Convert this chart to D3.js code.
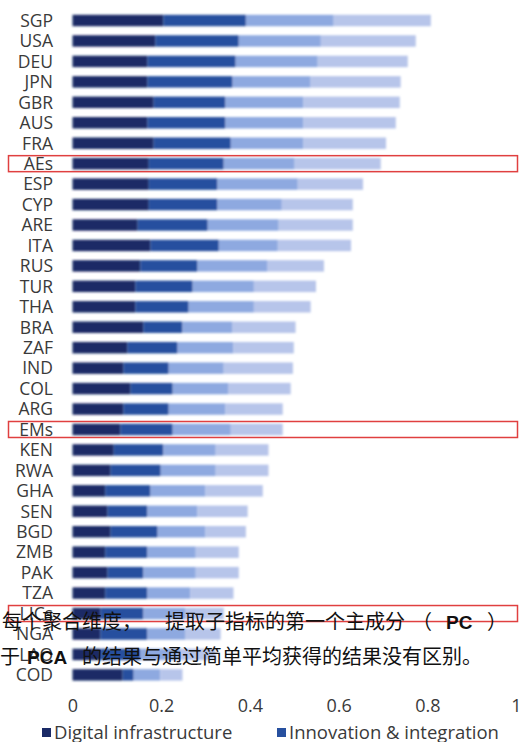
<!DOCTYPE html>
<html>
<head>
<meta charset="utf-8">
<script src="https://cdn.jsdelivr.net/npm/d3@7"></script>
<style>
  html, body { margin: 0; padding: 0; background: #fff; overflow: hidden; }
  svg { display: block; }
</style>
</head>
<body>
<script>
const countries = ["SGP","USA","DEU","JPN","GBR","AUS","FRA","AEs","ESP","CYP","ARE","ITA","RUS","TUR","THA","BRA","ZAF","IND","COL","ARG","EMs","KEN","RWA","GHA","SEN","BGD","ZMB","PAK","TZA","LICs","NGA","LAO","COD"];
const digitalInfrastructure = [0.205,0.187,0.169,0.169,0.183,0.169,0.183,0.172,0.172,0.172,0.147,0.176,0.153,0.142,0.142,0.160,0.124,0.115,0.131,0.115,0.108,0.093,0.086,0.074,0.079,0.086,0.074,0.079,0.074,0.063,0.063,0.063,0.113];
const innovationIntegration = [0.186,0.188,0.199,0.192,0.162,0.176,0.174,0.169,0.155,0.155,0.158,0.154,0.129,0.129,0.120,0.088,0.113,0.102,0.095,0.102,0.118,0.112,0.113,0.102,0.090,0.106,0.095,0.081,0.095,0.097,0.106,0.090,0.025];
const thirdDimension = [0.198,0.185,0.185,0.176,0.176,0.176,0.164,0.160,0.181,0.145,0.160,0.133,0.158,0.138,0.147,0.113,0.126,0.124,0.126,0.128,0.131,0.118,0.124,0.124,0.113,0.108,0.109,0.118,0.097,0.095,0.086,0.091,0.060];
const fourthDimension = [0.219,0.214,0.203,0.203,0.217,0.208,0.186,0.194,0.147,0.160,0.167,0.165,0.127,0.140,0.128,0.142,0.136,0.156,0.140,0.129,0.117,0.119,0.119,0.129,0.113,0.091,0.097,0.097,0.097,0.086,0.079,0.079,0.050];
const seriesNames = ["Digital infrastructure","Innovation & integration","Dimension 3","Dimension 4"];
const legendNames = ["Digital infrastructure","Innovation & integration"];
const tickValues = [0,0.2,0.4,0.6,0.8,1];
const tickLabels = ["0","0.2","0.4","0.6","0.8","1"];
const highlighted = ["AEs","EMs","LICs"];
const overlayLine1 = [["每个聚合维度，", 2, "cjk"], ["提取子指标的第一个主成分", 165, "cjk"], ["（", 412, "cjk"], ["PC", 446, "lat"], ["）", 487, "cjk"]];
const overlayLine2 = [["于", 0, "cjk"], ["PCA", 27, "lat"], ["的结果与通过简单平均获得的结果没有区别。", 82, "cjk"]];

const W = 519, H = 742;
const colors = ["#1a2a66", "#27509f", "#8ea9e0", "#b7c5ea"];

const rows = countries.map((c, i) => ({
  country: c,
  [seriesNames[0]]: digitalInfrastructure[i],
  [seriesNames[1]]: innovationIntegration[i],
  [seriesNames[2]]: thirdDimension[i],
  [seriesNames[3]]: fourthDimension[i]
}));
const stacked = d3.stack().keys(seriesNames)(rows);

const x = d3.scaleLinear().domain([0, 1]).range([72.5, 516]);
const y = d3.scaleBand().domain(countries).range([10.3, 685.1]).paddingInner(0.44).paddingOuter(0.22);

const svg = d3.select("body").append("svg").attr("width", W).attr("height", H);
const defs = svg.append("defs");
defs.append("filter").attr("id", "soft").attr("x", "-5%").attr("y", "-20%").attr("width", "110%").attr("height", "140%")
  .append("feGaussianBlur").attr("stdDeviation", 0.9);

const bars = svg.append("g").attr("filter", "url(#soft)");
bars.selectAll("g").data(stacked).join("g")
  .attr("fill", (d, i) => colors[i])
  .selectAll("rect").data(d => d).join("rect")
  .attr("x", d => x(d[0]))
  .attr("width", d => x(d[1]) - x(d[0]))
  .attr("y", d => y(d.data.country))
  .attr("height", y.bandwidth());

const labelFont = "'Open Sans', sans-serif";
// category labels
const yAxis = d3.axisLeft(y).tickSize(0).tickPadding(0);
const yg = svg.append("g").attr("transform", "translate(53,0)").call(yAxis);
yg.select(".domain").remove();
yg.selectAll("text").attr("font-family", labelFont).attr("font-size", 17.5).attr("fill", "#3a3a3a").attr("dy", "0.36em");

// x axis labels
const xAxis = d3.axisBottom(x).tickValues(tickValues).tickFormat((d, i) => tickLabels[i]).tickSize(0).tickPadding(0);
const xg = svg.append("g").attr("transform", "translate(0,700)").call(xAxis);
xg.select(".domain").remove();
xg.selectAll("text").attr("font-family", labelFont).attr("font-size", 18).attr("fill", "#3a3a3a").attr("dy", "0.68em");

// legend
const legendX = [42, 277];
const lg = svg.append("g");
legendNames.forEach((n, i) => {
  lg.append("rect").attr("x", legendX[i]).attr("y", 728).attr("width", 9).attr("height", 9).attr("fill", colors[i]);
  lg.append("text").attr("x", legendX[i] + 12).attr("y", 739).text(n)
    .attr("font-family", labelFont).attr("font-size", 18.5).attr("fill", "#3a3a3a");
});

// highlight boxes
svg.append("g").selectAll("rect").data(highlighted).join("rect")
  .attr("x", 8.5)
  .attr("y", d => y(d) + y.bandwidth() / 2 - 8)
  .attr("width", 509)
  .attr("height", 16)
  .attr("fill", "none")
  .attr("stroke", "#e04040")
  .attr("stroke-width", 1.5);

// overlay text
function overlay(line, baseline) {
  const t = svg.append("g");
  line.forEach(([s, px, kind]) => {
    t.append("text").attr("x", px).attr("y", baseline).text(s)
      .attr("font-family", kind === "cjk" ? "'Noto Sans CJK SC', sans-serif" : "'Liberation Sans', Arial, sans-serif")
      .attr("font-size", kind === "cjk" ? 20 : 19)
      .attr("font-weight", kind === "cjk" ? 400 : 700)
      .attr("fill", "#111");
  });
}
overlay(overlayLine1, 629);
overlay(overlayLine2, 664);
</script>
</body>
</html>
